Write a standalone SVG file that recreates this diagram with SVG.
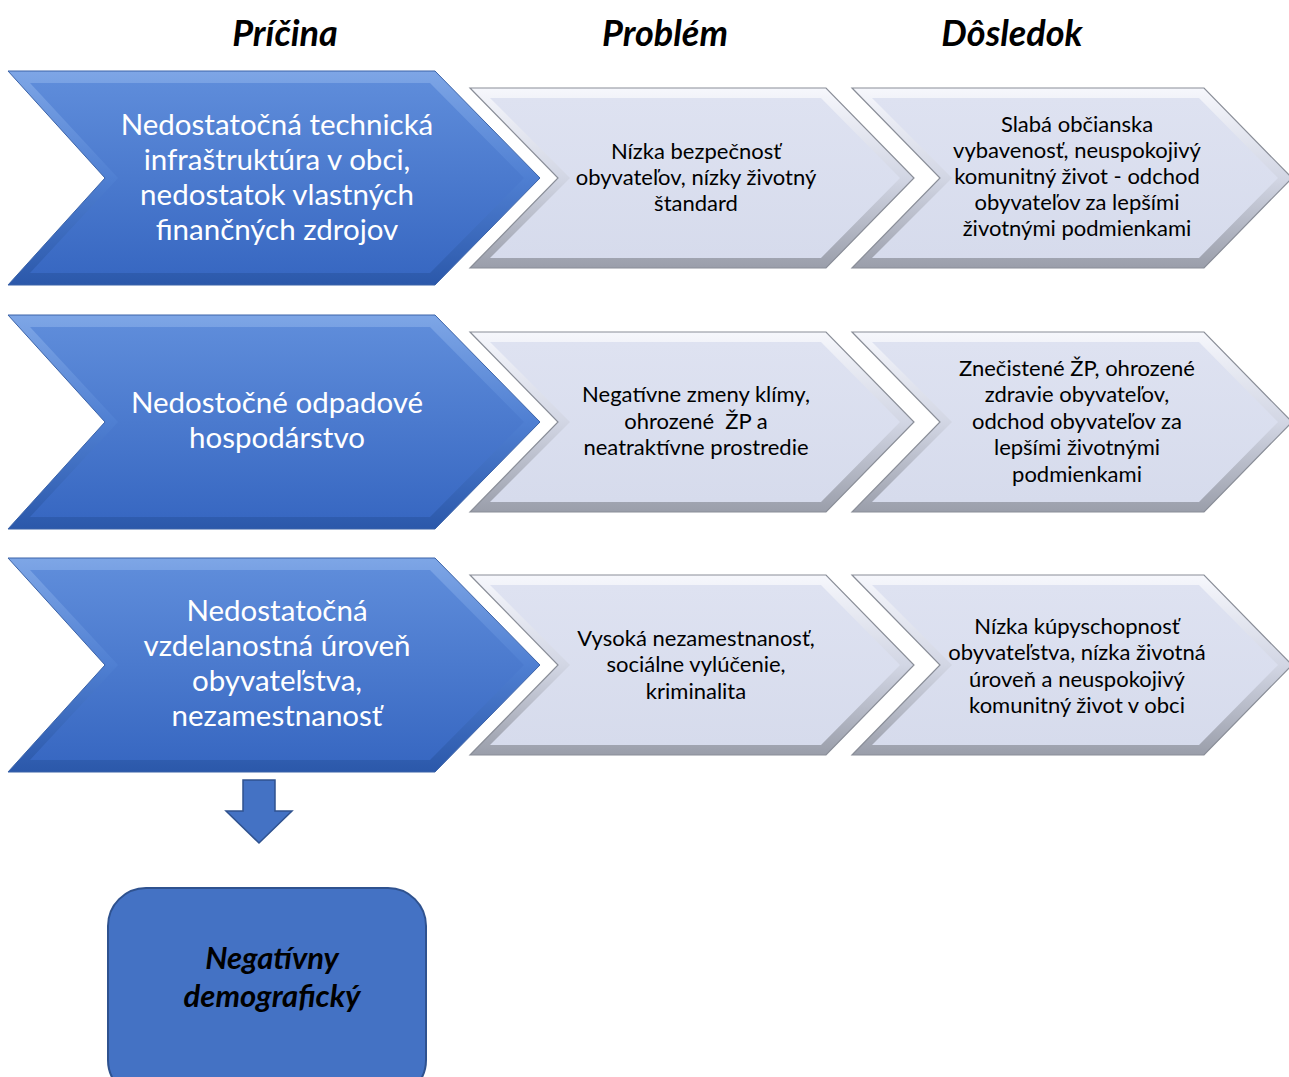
<svg xmlns="http://www.w3.org/2000/svg" xmlns:xlink="http://www.w3.org/1999/xlink" width="1289" height="1077" viewBox="0 0 1289 1077">
<defs>
<linearGradient id="bOut" x1="0" y1="0" x2="0" y2="1">
<stop offset="0" stop-color="#7EA6E6"/><stop offset="0.5" stop-color="#4F7FD2"/><stop offset="1" stop-color="#2B58AA"/>
</linearGradient>
<linearGradient id="bIn" x1="0" y1="0" x2="0" y2="1">
<stop offset="0" stop-color="#5E8CDA"/><stop offset="1" stop-color="#3868C2"/>
</linearGradient>
<linearGradient id="lOut" x1="0" y1="0" x2="0" y2="1">
<stop offset="0" stop-color="#F6F7FC"/><stop offset="0.5" stop-color="#D2D6E4"/><stop offset="1" stop-color="#9A9EAA"/>
</linearGradient>
<linearGradient id="lIn" x1="0" y1="0" x2="0" y2="1">
<stop offset="0" stop-color="#DEE2F1"/><stop offset="1" stop-color="#D6DBEC"/>
</linearGradient>
<g id="blueChev">
<path d="M8,0 L435,0 L540,107 L435,214 L8,214 L105,107 Z" fill="url(#bOut)" stroke="#3B63A8" stroke-width="1"/>
<path d="M30,12 L430,12 L524,107 L430,202 L30,202 L118,107 Z" fill="url(#bIn)"/>
</g>
<g id="midChev">
<path d="M470,0 L826,0 L914,90 L826,180 L470,180 L558,90 Z" fill="url(#lOut)" stroke="#8A8E98" stroke-width="1.2"/>
<path d="M490,10 L821,10 L900,90 L821,170 L490,170 L570,90 Z" fill="url(#lIn)"/>
</g>
<g id="rightChev">
<path d="M852,0 L1204,0 L1292,90 L1204,180 L852,180 L940,90 Z" fill="url(#lOut)" stroke="#8A8E98" stroke-width="1.2"/>
<path d="M872,10 L1199,10 L1278,90 L1199,170 L872,170 L952,90 Z" fill="url(#lIn)"/>
</g>
</defs>
<style>
.hdr{font-family:Lato,"Liberation Sans",sans-serif;font-weight:bold;font-style:italic;font-size:36px;fill:#000;text-anchor:middle}
.bt{font-family:Lato,"Liberation Sans",sans-serif;font-size:29.5px;fill:#fff;text-anchor:middle}
.lt{font-family:Lato,"Liberation Sans",sans-serif;font-size:22px;fill:#000;text-anchor:middle}
.res{font-family:Lato,"Liberation Sans",sans-serif;font-weight:bold;font-style:italic;font-size:31px;fill:#000;text-anchor:middle}
</style>
<rect width="1289" height="1077" fill="#fff"/>
<g id="headers">
<text class="hdr" x="285" y="46">Príčina</text>
<text class="hdr" x="665" y="46">Problém</text>
<text class="hdr" x="1012" y="46">Dôsledok</text>
</g>
<g id="cause1">
<use xlink:href="#blueChev" transform="translate(0,71)"/>
<text class="bt"><tspan x="277" y="135">Nedostatočná technická</tspan><tspan x="277" y="170">infraštruktúra v obci,</tspan><tspan x="277" y="205">nedostatok vlastných</tspan><tspan x="277" y="240">finančných zdrojov</tspan></text>
</g>
<g id="problem1">
<use xlink:href="#midChev" transform="translate(0,88)"/>
<text class="lt"><tspan x="696" y="159">Nízka bezpečnosť</tspan><tspan x="696" y="185">obyvateľov, nízky životný</tspan><tspan x="696" y="211">štandard</tspan></text>
</g>
<g id="effect1">
<use xlink:href="#rightChev" transform="translate(0,88)"/>
<text class="lt"><tspan x="1077" y="132">Slabá občianska</tspan><tspan x="1077" y="158">vybavenosť, neuspokojivý</tspan><tspan x="1077" y="184">komunitný život - odchod</tspan><tspan x="1077" y="210">obyvateľov za lepšími</tspan><tspan x="1077" y="236">životnými podmienkami</tspan></text>
</g>
<g id="cause2">
<use xlink:href="#blueChev" transform="translate(0,315)"/>
<text class="bt"><tspan x="277" y="413">Nedostočné odpadové</tspan><tspan x="277" y="448">hospodárstvo</tspan></text>
</g>
<g id="problem2">
<use xlink:href="#midChev" transform="translate(0,332)"/>
<text class="lt"><tspan x="696" y="402">Negatívne zmeny klímy,</tspan><tspan x="696" y="429" xml:space="preserve">ohrozené  ŽP a</tspan><tspan x="696" y="455">neatraktívne prostredie</tspan></text>
</g>
<g id="effect2">
<use xlink:href="#rightChev" transform="translate(0,332)"/>
<text class="lt"><tspan x="1077" y="376">Znečistené ŽP, ohrozené</tspan><tspan x="1077" y="402">zdravie obyvateľov,</tspan><tspan x="1077" y="429">odchod obyvateľov za</tspan><tspan x="1077" y="455">lepšími životnými</tspan><tspan x="1077" y="482">podmienkami</tspan></text>
</g>
<g id="cause3">
<use xlink:href="#blueChev" transform="translate(0,558)"/>
<text class="bt"><tspan x="277" y="621">Nedostatočná</tspan><tspan x="277" y="656">vzdelanostná úroveň</tspan><tspan x="277" y="691">obyvateľstva,</tspan><tspan x="277" y="726">nezamestnanosť</tspan></text>
</g>
<g id="problem3">
<use xlink:href="#midChev" transform="translate(0,575)"/>
<text class="lt"><tspan x="696" y="646">Vysoká nezamestnanosť,</tspan><tspan x="696" y="672">sociálne vylúčenie,</tspan><tspan x="696" y="699">kriminalita</tspan></text>
</g>
<g id="effect3">
<use xlink:href="#rightChev" transform="translate(0,575)"/>
<text class="lt"><tspan x="1077" y="634">Nízka kúpyschopnosť</tspan><tspan x="1077" y="660">obyvateľstva, nízka životná</tspan><tspan x="1077" y="687">úroveň a neuspokojivý</tspan><tspan x="1077" y="713">komunitný život v obci</tspan></text>
</g>
<g id="connectors">
<path d="M243,780 L275,780 L275,811 L292,811 L259,843 L226,811 L243,811 Z" fill="#4472C4" stroke="#2F528F" stroke-width="1.5"/>
</g>
<g id="result">
<rect x="108" y="888" width="318" height="210" rx="38" ry="38" fill="#4472C4" stroke="#2F528F" stroke-width="2"/>
<text class="res"><tspan x="272" y="969">Negatívny</tspan><tspan x="272" y="1007">demografický</tspan></text>
</g>
</svg>
